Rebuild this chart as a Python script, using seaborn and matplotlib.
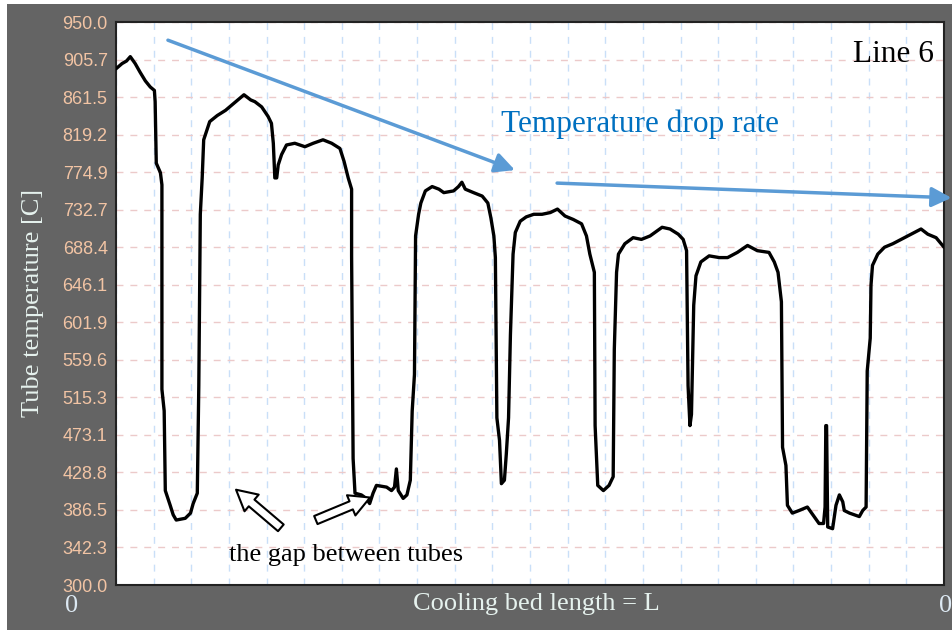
import numpy as np
import pandas as pd
import matplotlib.pyplot as plt
import seaborn as sns
from matplotlib.patches import Rectangle

# position along the cooling bed (grid units) and tube temperature
bed_pos = [0.00, 0.16, 0.28, 0.38, 0.51, 0.64, 0.78, 0.91, 1.02, 1.04, 1.07, 1.18, 1.22, 1.22,
           1.28, 1.31, 1.44, 1.52, 1.60, 1.84, 1.98, 2.05, 2.16, 2.20, 2.24, 2.29, 2.33, 2.49,
           2.69, 2.91, 3.18, 3.40, 3.58, 3.69, 3.87, 4.04, 4.13, 4.18, 4.22, 4.27, 4.31, 4.40,
           4.53, 4.75, 5.02, 5.24, 5.50, 5.73, 5.95, 6.06, 6.17, 6.26, 6.26, 6.30, 6.35, 6.52,
           6.65, 6.74, 6.83, 6.92, 7.19, 7.32, 7.40, 7.45, 7.50, 7.63, 7.73, 7.82, 7.87, 7.93,
           7.96, 8.04, 8.10, 8.22, 8.40, 8.58, 8.71, 8.97, 9.10, 9.19, 9.28, 9.50, 9.73, 9.88,
           9.96, 10.04, 10.08, 10.12, 10.19, 10.24, 10.32, 10.37, 10.43, 10.48, 10.55, 10.61,
           10.74, 10.90, 11.10, 11.32, 11.54, 11.73, 11.93, 12.15, 12.37, 12.50, 12.59, 12.71,
           12.73, 12.80, 12.95, 13.10, 13.21, 13.24, 13.30, 13.35, 13.52, 13.74, 13.96, 14.19,
           14.32, 14.51, 14.72, 14.94, 15.07, 15.16, 15.20, 15.25, 15.29, 15.35, 15.41, 15.54,
           15.76, 16.03, 16.25, 16.51, 16.78, 17.04, 17.35, 17.49, 17.59, 17.68, 17.71, 17.80,
           17.84, 17.97, 18.15, 18.37, 18.55, 18.68, 18.80, 18.84, 18.86, 18.88, 18.91, 19.04,
           19.13, 19.22, 19.31, 19.35, 19.49, 19.62, 19.75, 19.84, 19.93, 19.96, 20.04, 20.06,
           20.10, 20.24, 20.42, 20.64, 20.86, 21.12, 21.39, 21.57, 21.79, 21.96, 22.00]
tube_temp = [896, 902, 905, 910, 902, 892, 882, 875, 871, 858, 787, 776, 762, 526,
             501, 409, 392, 381, 375, 377, 383, 394, 406, 530, 728, 770, 814, 835,
             842, 848, 858, 866, 860, 858, 852, 841, 833, 810, 770, 770, 785, 797,
             808, 810, 806, 810, 814, 810, 804, 789, 770, 757, 680, 446, 406, 404,
             400, 394, 406, 415, 413, 409, 413, 434, 409, 400, 404, 421, 501, 543,
             703, 728, 741, 755, 760, 757, 753, 755, 760, 765, 757, 753, 749, 741,
             724, 703, 678, 493, 467, 417, 421, 451, 493, 589, 682, 707,
             720, 725, 728, 728, 730, 734, 726, 722, 717, 703, 682, 661,
             484, 415, 409, 415, 425, 572, 661, 682, 694, 701, 699, 703,
             707, 713, 711, 705, 699, 686, 530, 484, 497, 623, 657, 673,
             680, 678, 678, 684, 692, 686, 684, 673, 661, 627, 459, 438,
             392, 383, 386, 390, 379, 371, 371, 390, 484, 484, 367, 365,
             392, 404, 396, 386, 383, 381, 379, 386, 390, 547, 585, 646,
             669, 682, 690, 694, 699, 705, 711, 705, 701, 692, 690]

ytick_labels = ['300.0', '342.3', '386.5', '428.8', '473.1', '515.3', '559.6', '601.9',
                '646.1', '688.4', '732.7', '774.9', '819.2', '861.5', '905.7', '950.0']

df = pd.DataFrame({'pos': bed_pos, 'temp': tube_temp})

sns.set_theme(style='white')
plt.rcParams['font.family'] = ['Liberation Sans', 'DejaVu Sans']
serif = ['Liberation Serif', 'DejaVu Serif']

fig = plt.figure(figsize=(9.52, 6.30), dpi=100)
fig.patch.set_facecolor('white')
fig.add_artist(Rectangle((7 / 952, 0), 1, 1 - 4 / 630, transform=fig.transFigure,
                         facecolor='#646464', edgecolor='none', zorder=-10))

ax = fig.add_axes([116 / 952, 1 - 585 / 630, 828 / 952, 563 / 630])
ax.set_facecolor('white')

sns.lineplot(data=df, x='pos', y='temp', ax=ax, color='black', lw=2.4,
             estimator=None, sort=False, zorder=5)

ax.set_xlim(0, 22)
ax.set_ylim(300, 950)
ax.set_xticks(range(23))
ax.set_yticks(np.linspace(300, 950, 16))
ax.set_yticklabels(ytick_labels)
ax.grid(axis='x', color='#c9dff8', ls=(0, (5, 5)), lw=1)
ax.grid(axis='y', color='#eccaca', ls=(0, (5, 5)), lw=1)
ax.tick_params(axis='x', length=0, labelbottom=False)
ax.tick_params(axis='y', length=0, pad=6, labelsize=13, labelcolor='#f2c4a4')
ax.set_xlabel('')
ax.set_ylabel('')
for s in ax.spines.values():
    s.set_color('#222222')
    s.set_linewidth(1.5)

pale = '#e6f2ee'
fig.text(33 / 952, 1 - 303 / 630, 'Tube temperature [C]', rotation=90, ha='center',
         va='center', fontsize=19, color=pale, family=serif)
fig.text(536 / 952, 1 - 604 / 630, 'Cooling bed length = L', ha='center', va='center',
         fontsize=19, color=pale, family=serif)
fig.text(72 / 952, 1 - 612 / 630, '0', ha='center', va='baseline', fontsize=19,
         color='#dce8f2', family=serif)
fig.text(946 / 952, 1 - 612 / 630, '0', ha='center', va='baseline', fontsize=19,
         color='#dce8f2', family=serif)

ax.text(21.73, 912, 'Line 6', ha='right', va='center', fontsize=22.5, color='black',
        family=serif, zorder=6)
ax.text(13.92, 832, 'Temperature drop rate', ha='center', va='center', fontsize=22.5,
        color='#0070c0', family=serif, zorder=6)
ax.text(6.11, 335, 'the gap between tubes', ha='center', va='center', fontsize=19,
        color='black', family=serif, zorder=6)

blue = dict(arrowstyle='-|>,head_length=0.6,head_width=0.3', color='#5b9bd5', lw=2.5,
            mutation_scale=20, shrinkA=0, shrinkB=0)
ax.annotate('', xy=(10.6, 779), xytext=(1.38, 929), arrowprops=blue,
            annotation_clip=False, zorder=6)
ax.annotate('', xy=(22.2, 747), xytext=(11.72, 764), arrowprops=blue,
            annotation_clip=False, zorder=6)

hollow = dict(arrowstyle='simple,head_length=0.7,head_width=0.75,tail_width=0.3',
              fc='white', ec='black', lw=1.5, mutation_scale=21, shrinkA=0, shrinkB=0)
ax.annotate('', xy=(3.19, 410), xytext=(4.38, 366), arrowprops=hollow, zorder=6)
ax.annotate('', xy=(6.75, 401), xytext=(5.31, 375), arrowprops=hollow, zorder=6)

fig.savefig('out.png', dpi=100, facecolor=fig.get_facecolor())
